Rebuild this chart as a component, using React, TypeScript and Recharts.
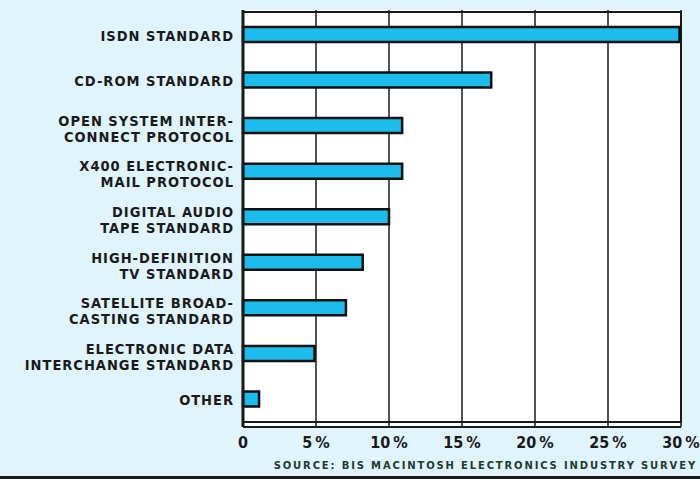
import React from "react";
import { BarChart, Bar, XAxis, YAxis, CartesianGrid, ReferenceArea } from "recharts";

const categories: string[][] = [
  ["ISDN STANDARD"],
  ["CD-ROM STANDARD"],
  ["OPEN SYSTEM INTER-", "CONNECT PROTOCOL"],
  ["X400 ELECTRONIC-", "MAIL PROTOCOL"],
  ["DIGITAL AUDIO", "TAPE STANDARD"],
  ["HIGH-DEFINITION", "TV STANDARD"],
  ["SATELLITE BROAD-", "CASTING STANDARD"],
  ["ELECTRONIC DATA", "INTERCHANGE STANDARD"],
  ["OTHER"],
];
const values: number[] = [29.9, 17, 10.9, 10.9, 10, 8.2, 7.05, 4.9, 1.1];
const xTicks: number[] = [0, 5, 10, 15, 20, 25, 30];
const sourceText = "SOURCE: BIS MACINTOSH ELECTRONICS INDUSTRY SURVEY";

const data = categories.map((c, i) => ({ key: c.join("\n"), value: values[i] }));

const FONT = "'DejaVu Sans Condensed', 'Liberation Sans Narrow', 'Roboto', sans-serif";

const YTick = (props: any) => {
  const { x, y, payload } = props;
  const lines: string[] = String(payload.value).split("\n");
  const first = lines.length === 1 ? 6 : 0;
  return (
    <g>
      {lines.map((l, i) => (
        <text
          key={i}
          x={x - 1}
          y={y + first + i * 16}
          textAnchor="end"
          fontFamily={FONT}
          fontWeight={700}
          fontSize={14.5}
          letterSpacing={1}
          fill="#1a1a1a"
        >
          {l}
        </text>
      ))}
    </g>
  );
};

const XTick = (props: any) => {
  const { x, y, payload } = props;
  const label = payload.value === 0 ? "0" : `${payload.value}\u2009%`;
  return (
    <text x={x} y={y + 13} textAnchor="middle" fontFamily={FONT} fontWeight={700} fontSize={16} fill="#1a1a1a">
      {label}
    </text>
  );
};

export default function App() {
  return (
    <div style={{ position: "absolute", left: 0, top: 0, width: 700, height: 479, background: "#e0f4fb", overflow: "hidden" }}>
      <BarChart
        width={700}
        height={479}
        data={data}
        layout="vertical"
        margin={{ top: 10, right: 19, bottom: 22, left: 0 }}
        barCategoryGap={0}
      >
        <CartesianGrid horizontal={false} vertical={true} stroke="#1a1a1a" strokeWidth={1.5} fill="#ffffff" fillOpacity={1} />
        <XAxis
          type="number"
          domain={[0, 30]}
          ticks={xTicks}
          height={30}
          axisLine={{ stroke: "#1a1a1a", strokeWidth: 2 }}
          tickLine={false}
          tick={<XTick />}
          interval={0}
        />
        <YAxis
          type="category"
          dataKey="key"
          width={243}
          axisLine={{ stroke: "#1a1a1a", strokeWidth: 3 }}
          tickLine={false}
          tick={<YTick />}
          interval={0}
          padding={{ top: 2, bottom: 5 }}
        />
        <ReferenceArea x1={0} x2={30} fill="none" stroke="#1a1a1a" strokeWidth={2} ifOverflow="visible" />
        <Bar dataKey="value" fill="#1cbdec" stroke="#111" strokeWidth={2.5} barSize={15} isAnimationActive={false} />
      </BarChart>
      <div
        style={{
          position: "absolute",
          right: 3,
          top: 460,
          fontFamily: "'DejaVu Sans', sans-serif",
          fontWeight: 700,
          fontSize: 10,
          letterSpacing: 1.85,
          color: "#1d3a33",
          whiteSpace: "nowrap",
        }}
      >
        {sourceText}
      </div>
      <div style={{ position: "absolute", left: 0, top: 476, width: 700, height: 3, background: "#1a1a1a" }} />
    </div>
  );
}
